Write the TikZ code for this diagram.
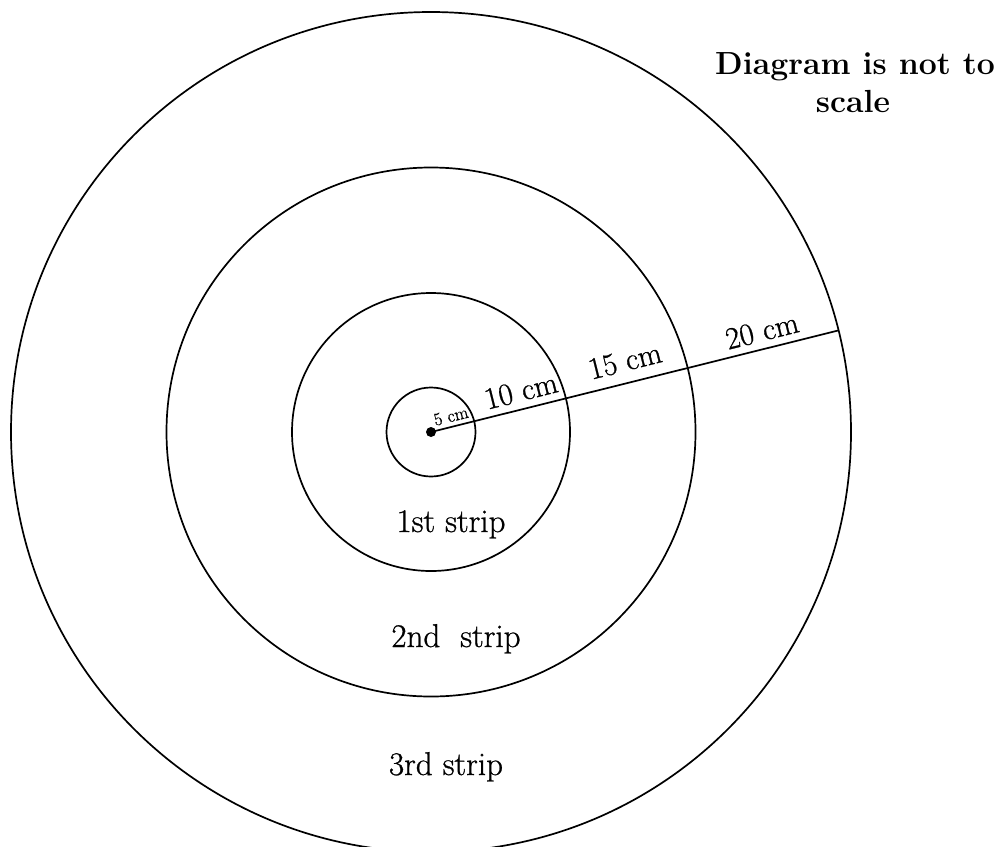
\documentclass[tikz,border=0pt]{standalone}
\usepackage{fontspec}
\setmainfont{Latin Modern Roman}[UprightFeatures={FakeBold=0.8}]
\begin{document}
\begin{tikzpicture}[x=1pt,y=-1pt,
  ring/.style={draw, circle, line width=1.7pt, inner sep=0pt, outer sep=0pt},
  lbl/.style={font=\fontsize{33}{38}\selectfont, inner sep=0pt},
  alongline/.style={inner sep=0pt, font=\fontsize{31}{36}\selectfont, rotate=14.1},
  dotstyle/.style={fill, circle, inner sep=0pt, minimum size=10pt}]
\useasboundingbox (0,0) rectangle (1003,846);
\clip (0,0) rectangle (1003,846);
\coordinate (O) at (431,432);
\node[ring, minimum size=89pt] (c1) at (O) {};
\node[ring, minimum size=278pt] (c2) at (O) {};
\node[ring, minimum size=529pt] (c3) at (O) {};
\node[ring, minimum size=840pt] (c4) at (O) {};
\node[dotstyle] (dot) at (O) {};
\draw[line width=1.7pt] (O) -- (c4.14.1);
\node[alongline, font=\fontsize{18}{21}\selectfont] (l5) at (451,416) {5 cm};
\node[alongline] (l10) at (521,391) {10 cm};
\node[alongline] (l15) at (625,361) {15 cm};
\node[alongline] (l20) at (762,331) {20 cm};
\node[lbl, anchor=base] (s1) at (451,532) {1st strip};
\node[lbl, anchor=base] (s2) at (456,647) {2nd\ \ strip};
\node[lbl, anchor=base] (s3) at (446,775) {3rd strip};
\node[lbl, anchor=base, font=\fontsize{32}{38}\bfseries\selectfont] (t1) at (855,74) {Diagram is not to};
\node[lbl, anchor=base, font=\fontsize{32}{38}\bfseries\selectfont] (t2) at (853,112) {scale};
\end{tikzpicture}
\end{document}
